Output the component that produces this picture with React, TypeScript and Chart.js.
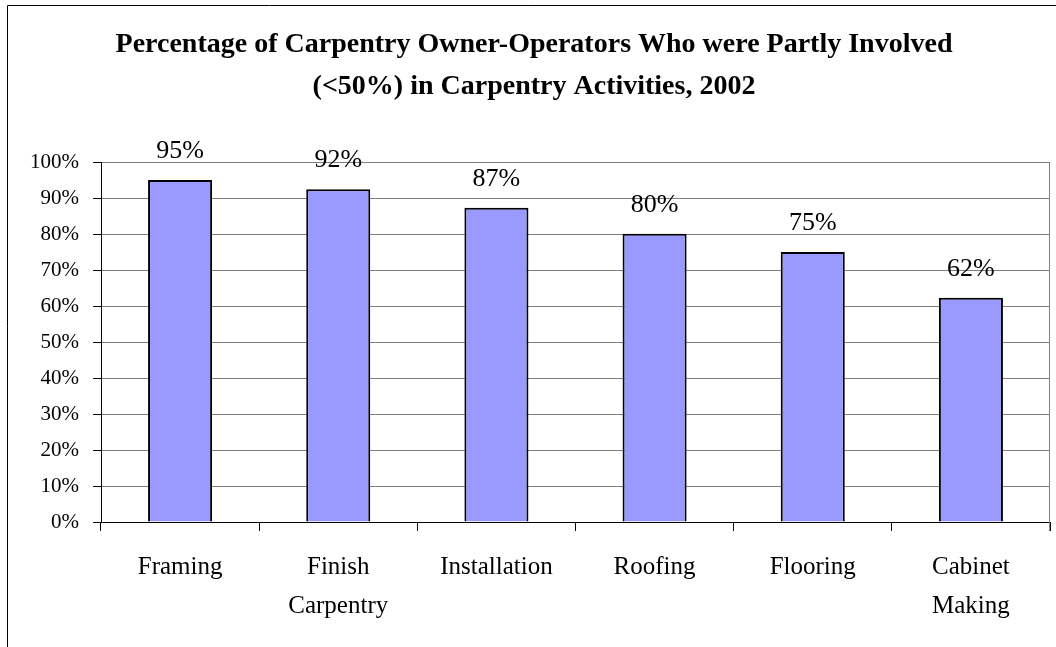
import React, { useEffect, useRef } from "react";
import { Chart, registerables } from "chart.js";

Chart.register(...registerables);

const categories: (string | string[])[] = [
  "Framing",
  ["Finish", "Carpentry"],
  "Installation",
  "Roofing",
  "Flooring",
  ["Cabinet", "Making"],
];
const values: number[] = [95, 92.4, 87.3, 80.1, 75, 62.3];
const yTicks: number[] = [0, 10, 20, 30, 40, 50, 60, 70, 80, 90, 100];
const titleLines: string[] = [
  "Percentage of Carpentry Owner-Operators Who were Partly Involved",
  "(<50%) in Carpentry Activities, 2002",
];

const SERIF = "'Liberation Serif', 'Times New Roman', serif";

const decorPlugin = {
  id: "decor",
  beforeDraw(chart: any) {
    const ctx = chart.ctx;
    ctx.save();
    ctx.fillStyle = "#ffffff";
    ctx.fillRect(0, 0, chart.width, chart.height);
    ctx.strokeStyle = "#000";
    ctx.lineWidth = 1;
    ctx.beginPath();
    ctx.moveTo(7.5, chart.height);
    ctx.lineTo(7.5, 5.5);
    ctx.lineTo(chart.width, 5.5);
    ctx.stroke();
    ctx.restore();
  },
  afterDraw(chart: any) {
    const ctx = chart.ctx;
    const area = chart.chartArea;
    ctx.save();
    // right plot border
    ctx.strokeStyle = "#808080";
    ctx.lineWidth = 1;
    ctx.beginPath();
    ctx.moveTo(Math.round(area.right) - 0.5, area.top);
    ctx.lineTo(Math.round(area.right) - 0.5, area.bottom + 9);
    ctx.stroke();
    // title
    ctx.fillStyle = "#000";
    ctx.textAlign = "center";
    ctx.textBaseline = "middle";
    ctx.font = `bold 28px ${SERIF}`;
    ctx.fillText(titleLines[0], 534, 45);
    ctx.fillText(titleLines[1], 534, 87);
    // data labels
    ctx.font = `26px ${SERIF}`;
    ctx.textBaseline = "alphabetic";
    const meta = chart.getDatasetMeta(0);
    meta.data.forEach((bar: any, i: number) => {
      ctx.fillText(Math.round(values[i]) + "%", bar.x, bar.y - 22);
    });
    ctx.restore();
  },
};

export default function App() {
  const ref = useRef<HTMLCanvasElement>(null);
  useEffect(() => {
    document.body.style.margin = "0";
    const chart = new Chart(ref.current!, {
      type: "bar",
      data: {
        labels: categories,
        datasets: [
          {
            data: values,
            backgroundColor: "#9999FF",
            borderColor: "#000000",
            borderWidth: 2,
            barPercentage: 0.405,
            categoryPercentage: 1,
          },
        ],
      },
      options: {
        animation: false,
        responsive: false,
        maintainAspectRatio: false,
        layout: { padding: { left: 0, right: 6, top: 162, bottom: 0 } },
        plugins: {
          legend: { display: false },
          title: { display: false },
          tooltip: { enabled: false },
        },
        scales: {
          x: {
            offset: true,
            grid: {
              display: true,
              drawOnChartArea: false,
              offset: true,
              tickLength: 9,
              tickColor: "#000",
              color: "#000",
            },
            border: { color: "#000", width: 1 },
            ticks: {
              color: "#000",
              padding: 17,
              maxRotation: 0,
              autoSkip: false,
              font: { family: SERIF, size: 25, lineHeight: 1.56 },
            },
            afterFit(scale: any) {
              scale.height = 125;
            },
          },
          y: {
            min: 0,
            max: 100,
            afterBuildTicks(scale: any) {
              scale.ticks = yTicks.map((v) => ({ value: v }));
            },
            grid: {
              color: "#808080",
              tickColor: "#000",
              tickLength: 8,
              lineWidth: 1,
            },
            border: { color: "#000", width: 1 },
            ticks: {
              color: "#000",
              padding: 14,
              font: { family: SERIF, size: 21 },
              callback: (v: any) => v + "%",
            },
            afterFit(scale: any) {
              scale.width = 101;
            },
          },
        },
      },
      plugins: [decorPlugin],
    });
    return () => chart.destroy();
  }, []);
  return (
    <div style={{ width: 1056, height: 647 }}>
      <canvas ref={ref} width={1056} height={647} style={{ display: "block" }} />
    </div>
  );
}
